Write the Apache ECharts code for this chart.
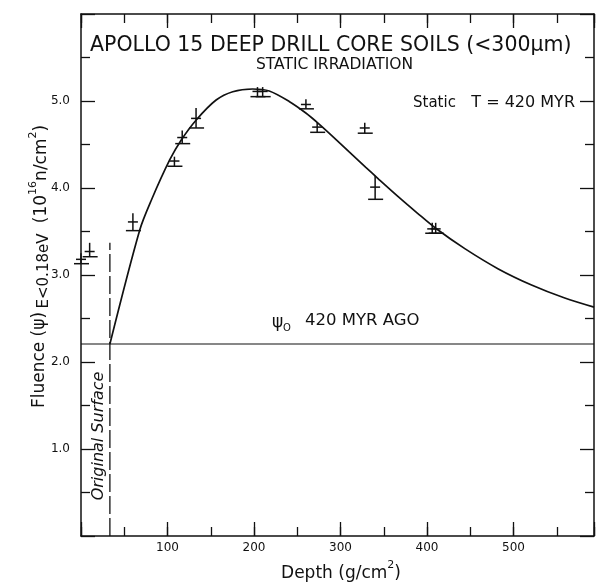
<!DOCTYPE html>
<html>
<head>
<meta charset="utf-8">
<script src="https://cdn.jsdelivr.net/npm/echarts@6/dist/echarts.min.js"></script>
<style>
  html, body { margin: 0; padding: 0; background: #fff; }
  #chart { width: 597px; height: 585px; }
</style>
</head>
<body>
<div id="chart"></div>
<script>
// Measured fluence of the drill-core soil samples (10^16 n/cm^2)
const sampleDepth = [0, 10, 60, 108, 117, 133, 204, 210, 260, 273, 328, 340, 406, 410];
const sampleValue = [3.18, 3.27, 3.61, 4.31, 4.58, 4.80, 5.11, 5.11, 4.96, 4.70, 4.69, 4.01, 3.53, 3.53];
const sampleLow   = [3.13, 3.21, 3.51, 4.25, 4.51, 4.69, 5.05, 5.05, 4.91, 4.64, 4.63, 3.87, 3.48, 3.48];
const sampleHigh  = [3.25, 3.37, 3.71, 4.36, 4.66, 4.92, 5.16, 5.16, 5.02, 4.75, 4.75, 4.14, 3.60, 3.60];

// Static irradiation model curve, T = 420 MYR
const modelDepth   = [33.4, 67.9, 81.4, 102.5, 115.9, 133.2, 156.2, 175.4, 198.4, 217.6, 240.6, 259.9, 275.2, 290.5, 309.7, 328.9, 344.3, 367.3, 388.4, 409.6, 444.1, 482.4, 520.8, 559.2, 593];
const modelFluence = [2.207, 3.517, 3.862, 4.322, 4.552, 4.782, 5.011, 5.107, 5.138, 5.115, 4.995, 4.862, 4.735, 4.597, 4.418, 4.240, 4.100, 3.895, 3.715, 3.540, 3.300, 3.070, 2.885, 2.735, 2.630];

// Initial fluence psi0 and the original surface depth
const psi0 = 2.207;
const surfaceDepth = 33.4;
const surfaceLineTop = 3.37;

// Axis ranges and tick steps
const depthMax = 593;
const depthMajor = 100;
const depthMinor = 50;
const fluenceMin = 0;
const fluenceMax = 6;
const fluenceStep = 1;

const FONT = 'DejaVu Sans';
const INK = '#111';

const chart = echarts.init(document.getElementById('chart'), null, { renderer: 'canvas' });

const tickStyle = { color: INK, width: 1.3 };

function depthAxis(position, interval, tickLen, showLabel, showLine) {
  return {
    type: 'value', position: position, min: 0, max: depthMax, interval: interval,
    axisLine: { show: showLine, onZero: false, lineStyle: { color: INK, width: 1.5 } },
    axisTick: { show: true, inside: true, length: tickLen, lineStyle: tickStyle },
    axisLabel: {
      show: showLabel, color: INK, fontFamily: FONT, fontSize: 12, margin: 6,
      formatter: v => (v > 0 && v % 100 === 0 && v < 600) ? String(v) : ''
    },
    splitLine: { show: false }
  };
}

function fluenceAxis(position, showLabel) {
  return {
    type: 'value', position: position, min: fluenceMin, max: fluenceMax, interval: fluenceStep,
    axisLine: { show: true, onZero: false, lineStyle: { color: INK, width: 1.5 } },
    axisTick: { show: true, inside: true, length: 14, lineStyle: tickStyle },
    minorTick: { show: true, splitNumber: 2, length: 9, lineStyle: tickStyle },
    axisLabel: {
      show: showLabel, color: INK, fontFamily: FONT, fontSize: 12, margin: 11,
      formatter: v => (v > 0 && v < 6) ? v.toFixed(1) : ''
    },
    splitLine: { show: false },
    minorSplitLine: { show: false }
  };
}

// One sample: vertical error bar, short bar at the measured value, wide foot at the low end
function renderSample(params, api) {
  const x = api.value(0), lo = api.value(1), v = api.value(2), hi = api.value(3);
  const pLo = api.coord([x, lo]);
  const pV = api.coord([x, v]);
  const pHi = api.coord([x, hi]);
  const style = { stroke: INK, lineWidth: 1.5, fill: null };
  return {
    type: 'group',
    children: [
      { type: 'line', shape: { x1: pLo[0], y1: pLo[1], x2: pHi[0], y2: pHi[1] }, style: style },
      { type: 'line', shape: { x1: pV[0] - 5, y1: pV[1], x2: pV[0] + 5, y2: pV[1] }, style: style },
      { type: 'line', shape: { x1: pLo[0] - 7, y1: pLo[1], x2: pLo[0] + 8, y2: pLo[1] }, style: style }
    ]
  };
}

function rotatedText(x, y, text, size, extra) {
  return {
    type: 'text', x: x, y: y, rotation: Math.PI / 2,
    style: Object.assign({
      text: text, fill: INK, fontFamily: FONT, fontSize: size,
      align: 'center', verticalAlign: 'middle'
    }, extra || {})
  };
}

function flatText(x, y, text, size, align) {
  return {
    type: 'text', x: x, y: y,
    style: {
      text: text, fill: INK, fontFamily: FONT, fontSize: size,
      align: align || 'left', verticalAlign: 'middle'
    }
  };
}

const supRich = {
  m: { fontFamily: FONT, fontSize: 17, lineHeight: 22, fill: INK, verticalAlign: 'bottom' },
  s: { fontFamily: FONT, fontSize: 11, lineHeight: 12, fill: INK, verticalAlign: 'top' }
};

const option = {
  backgroundColor: '#fff',
  animation: false,
  grid: { left: 81, right: 1, top: 14, bottom: 49, containLabel: false },
  xAxis: [
    depthAxis('bottom', depthMajor, 14, true, true),
    depthAxis('bottom', depthMinor, 9, false, false),
    depthAxis('top', depthMajor, 14, false, true),
    depthAxis('top', depthMinor, 9, false, false)
  ],
  yAxis: [
    fluenceAxis('left', true),
    fluenceAxis('right', false)
  ],
  series: [
    {
      name: 'psi0', type: 'line', symbol: 'none', silent: true,
      data: [[0, psi0], [depthMax, psi0]],
      lineStyle: { color: INK, width: 1.2 }
    },
    {
      name: 'surface', type: 'line', symbol: 'none', silent: true,
      data: [[surfaceDepth, fluenceMin], [surfaceDepth, surfaceLineTop]],
      lineStyle: { color: INK, width: 1.3, type: [18, 4] }
    },
    {
      name: 'model', type: 'line', symbol: 'none', smooth: 0.3, silent: true,
      data: modelDepth.map((d, i) => [d, modelFluence[i]]),
      lineStyle: { color: INK, width: 1.7 }
    },
    {
      name: 'samples', type: 'custom', clip: false, silent: true,
      renderItem: renderSample,
      encode: { x: 0, y: [1, 2, 3] },
      data: sampleDepth.map((d, i) => [d, sampleLow[i], sampleValue[i], sampleHigh[i]])
    }
  ],
  graphic: [
    flatText(90, 45.5, 'APOLLO 15 DEEP DRILL CORE SOILS (<300\u03bcm)', 20.5),
    flatText(256, 65, 'STATIC IRRADIATION', 15.5),
    flatText(413, 103, 'Static', 15),
    flatText(575, 103, 'T = 420 MYR', 16, 'right'),
    flatText(272, 323, '\u03c8', 17),
    flatText(283, 328, 'O', 10),
    flatText(305, 321, '420 MYR AGO', 16.5),
    rotatedText(99, 436, 'Original Surface', 16, { fontStyle: 'italic' }),
    rotatedText(40, 360, 'Fluence (\u03c8)', 17),
    rotatedText(44, 271, 'E<0.18eV', 15),
    {
      type: 'text', x: 39, y: 174, rotation: Math.PI / 2,
      style: {
        text: '{m|(10}{s|16}{m|n/cm}{s|2}{m|)}',
        align: 'center', verticalAlign: 'middle', fill: INK, rich: supRich
      }
    },
    {
      type: 'text', x: 341, y: 571,
      style: {
        text: '{m|Depth (g/cm}{s|2}{m|)}',
        align: 'center', verticalAlign: 'middle', fill: INK, rich: supRich
      }
    }
  ]
};

chart.setOption(option);
</script>
</body>
</html>
